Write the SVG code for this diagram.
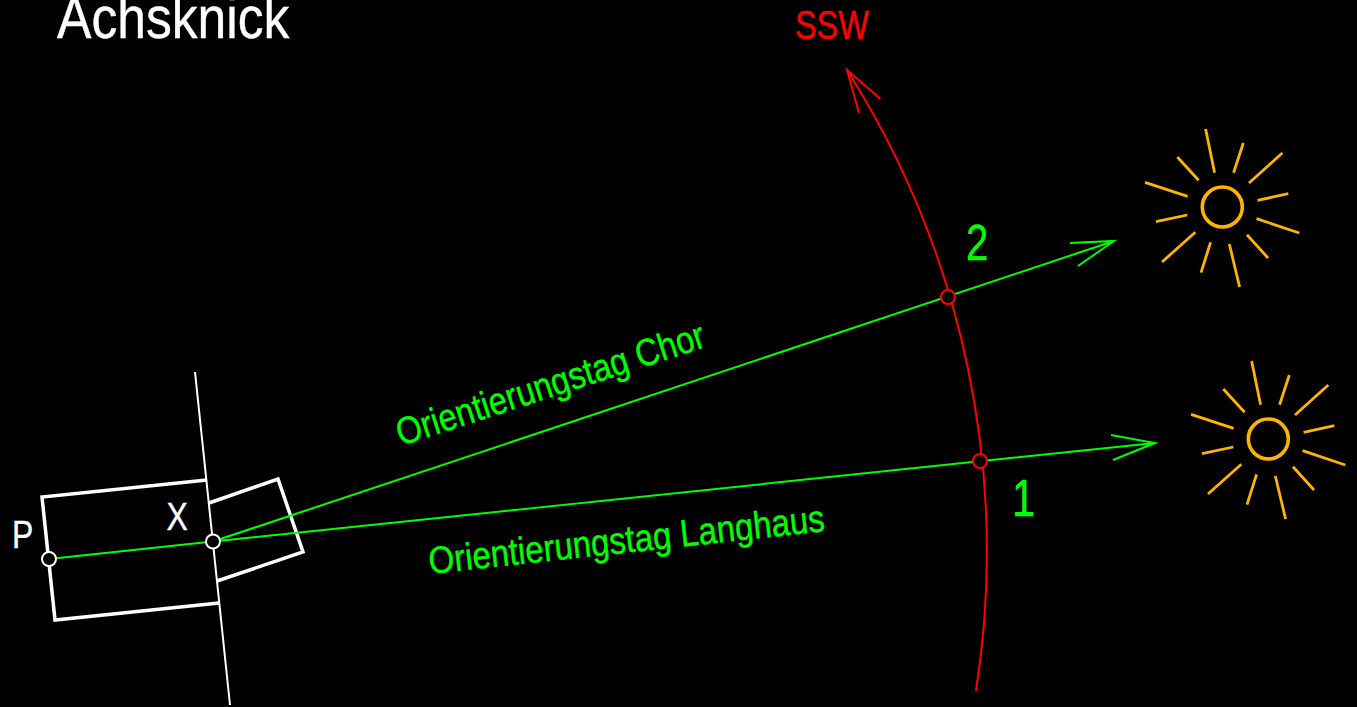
<svg xmlns="http://www.w3.org/2000/svg" width="1357" height="707" viewBox="0 0 1357 707">
<style>
text{font-family:"Liberation Sans",Arial,sans-serif}
.w{stroke:#fff;fill:none}
.dot{stroke:#fff;fill:#000;stroke-width:2}
.rdot{stroke:#f00;fill:#000;stroke-width:2}
.g{stroke:#0f0;fill:none;stroke-width:2}
.r{stroke:#f00;fill:none;stroke-width:2}
.s{stroke:#ffb400;fill:none;stroke-width:2.800}
.tw{fill:#fff;stroke:#fff;stroke-width:.4}
.tg{fill:#0f0;stroke:#0f0;stroke-width:.4}
.tr{fill:#f00;stroke:#f00;stroke-width:.4}
</style>
<defs>
<g id="sun">
<circle class="s" cx="0" cy="0" r="20" style="stroke-width:3.600"/>
<path class="s" d="M-16.700-78 L-7.700-34.300M21-64 L11.300-34.300M60-54 L26.700-24M66-13.300 L35.300-6.700M77 26 L34.300 11.700M45.700 51 L24.700 27.700M17.300 80 L7 37M-11.700 35.300 L-21.300 65.700M-27 25.300 L-60.300 55M-35 8 L-66.300 14.700M-34.700-10.700 L-77.300-24.700M-45-50 L-23.700-26.700"/>
</g>
</defs>
<rect width="1357" height="707" fill="#000"/>
<g id="axis"><path class="w" stroke-width="2" d="M195 372 L230 705"/></g>
<g id="choir"><path class="w" stroke-width="3.500" d="M209 503 L278 479 L303 552 L217 581"/></g>
<g id="nave"><path class="w" stroke-width="3.500" d="M207 480 L42 497 L55 620 L219 603"/></g>
<g id="connectors">
<path class="g" d="M49 559 L213 541.500"/>
<path class="g" d="M213 541.500 L1155 443M1111 435 L1155 443 L1113 460"/>
<path class="g" d="M213 541.500 L1114 241M1070 243 L1114 241 L1078 266"/>
<path class="r" d="M976 691 A900 900 0 0 0 847 70M880.500 99 L847 70 L859 113"/>
</g>
<g id="point-p"><circle class="dot" cx="49" cy="559" r="7"/><text class="tw" font-size="39" transform="translate(12 548) scale(.82 1)">P</text></g>
<g id="point-x"><circle class="dot" cx="213" cy="541.500" r="7"/><text class="tw" font-size="39" transform="translate(166.500 530) scale(.82 1)">X</text></g>
<g id="point-1"><circle class="rdot" cx="980" cy="461" r="7"/></g>
<g id="point-2"><circle class="rdot" cx="948" cy="297" r="7"/></g>
<g id="sun-2"><use href="#sun" x="1222.300" y="207"/></g>
<g id="sun-1"><use href="#sun" x="1268.300" y="439"/></g>
<text class="tw" font-size="59" transform="translate(57 38) scale(.875 1)">Achsknick</text>
<text class="tr" font-size="40" transform="translate(795 39) scale(.81 1)">SSW</text>
<text class="tg" font-size="50" transform="translate(966 260) scale(.8 1)">2</text>
<text class="tg" font-size="52" transform="translate(1012 516) scale(.8 1)">1</text>
<text class="tg" font-size="38" transform="translate(401 446) rotate(-18) scale(.862 1)">Orientierungstag Chor</text>
<text class="tg" font-size="38" transform="translate(430 574) rotate(-6.200) scale(.868 1)">Orientierungstag Langhaus</text>
</svg>
